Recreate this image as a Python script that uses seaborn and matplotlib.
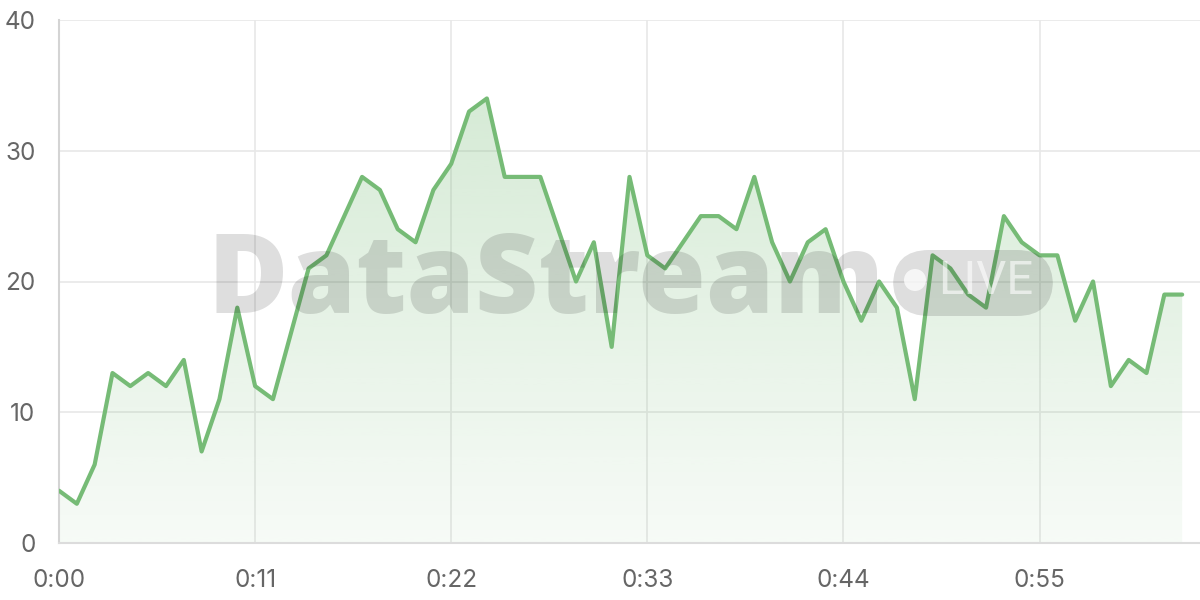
import numpy as np
import pandas as pd
import matplotlib
matplotlib.use("Agg")
import matplotlib.pyplot as plt
from matplotlib.patches import FancyBboxPatch, Ellipse
import seaborn as sns

# values per second
seconds = list(range(64))
values = [4, 3, 6, 13, 12, 13, 12, 14, 7, 11,
          18, 12, 11, 16, 21, 22, 25, 28, 27, 24,
          23, 27, 29, 33, 34, 28, 28, 28, 24, 20,
          23, 15, 28, 22, 21, 23, 25, 25, 24, 28,
          23, 20, 23, 24, 20, 17, 20, 18, 11, 22,
          21, 19, 18, 25, 23, 22, 22, 17, 20, 12,
          14, 13, 19, 19]
tick_pos = [0, 11, 22, 33, 44, 55]
tick_labels = ["0:00", "0:11", "0:22", "0:33", "0:44", "0:55"]
y_ticks = [0, 10, 20, 30, 40]

df = pd.DataFrame({"t": seconds, "v": values})

sns.set_style("white")
plt.rcParams["font.family"] = ["Inter", "DejaVu Sans"]

line_color = "#76bb76"
grid_color = "#e8e8e8"

fig = plt.figure(figsize=(12, 6), dpi=100)
ax = fig.add_axes([59 / 1200, 57 / 600, 1141 / 1200, 523 / 600])

# gradient fill under the line, strongest at the top
poly = ax.fill_between(df["t"], df["v"], 0, facecolor="none", edgecolor="none")
grad = np.zeros((256, 1, 4))
grad[:, 0, 0:3] = matplotlib.colors.to_rgb(line_color)
grad[:, 0, 3] = np.linspace(0.30, 0.06, 256)
img = ax.imshow(grad, extent=[0, 63, 0, max(values)], aspect="auto",
                zorder=1, interpolation="bilinear")
img.set_clip_path(poly.get_paths()[0], transform=ax.transData)

sns.lineplot(data=df, x="t", y="v", ax=ax, color=line_color, linewidth=3,
             zorder=4)

ax.set_xlim(0, 64)
ax.set_ylim(0, 40)
ax.set_xticks(tick_pos)
ax.set_xticklabels(tick_labels)
ax.set_yticks(y_ticks)
ax.set_xlabel("")
ax.set_ylabel("")
ax.grid(True, color=grid_color, linewidth=1.2, zorder=0)
ax.set_axisbelow(True)
for s in ["top", "right"]:
    ax.spines[s].set_visible(False)
ax.spines["left"].set_color("#d4d4d4")
ax.spines["left"].set_linewidth(1.5)
ax.spines["bottom"].set_color("#dcdcdc")
ax.spines["bottom"].set_linewidth(1.5)
ax.tick_params(axis="both", length=11, width=1.2, color=grid_color,
               labelcolor="#666666", labelsize=17.5)
ax.tick_params(axis="x", pad=8)
ax.tick_params(axis="y", pad=6)

# watermark
wm_color = (0, 0, 0, 0.13)
fig.text(208 / 1200, 1 - 313 / 600, "DataStream", fontsize=79,
         fontweight="heavy", color=wm_color, ha="left", va="baseline",
         family=["Open Sans", "DejaVu Sans"], zorder=3)
pill = FancyBboxPatch((893 / 1200, 1 - 316 / 600), 160 / 1200, 66 / 600,
                      boxstyle="round,pad=0,rounding_size=0.03",
                      transform=fig.transFigure, facecolor=wm_color,
                      edgecolor="none", zorder=3, mutation_aspect=2)
fig.patches.append(pill)
fig.patches.append(Ellipse((915 / 1200, 1 - 280 / 600), 22 / 1200, 22 / 600,
                           transform=fig.transFigure,
                           facecolor=(1, 1, 1, 0.75), edgecolor="none",
                           zorder=3))
fig.text(986 / 1200, 1 - 281 / 600, "LIVE", fontsize=34, color=(1, 1, 1, 0.6),
         ha="center", va="center", family=["Roboto", "DejaVu Sans"], zorder=3)

fig.savefig("out.png", dpi=100, facecolor="white")
